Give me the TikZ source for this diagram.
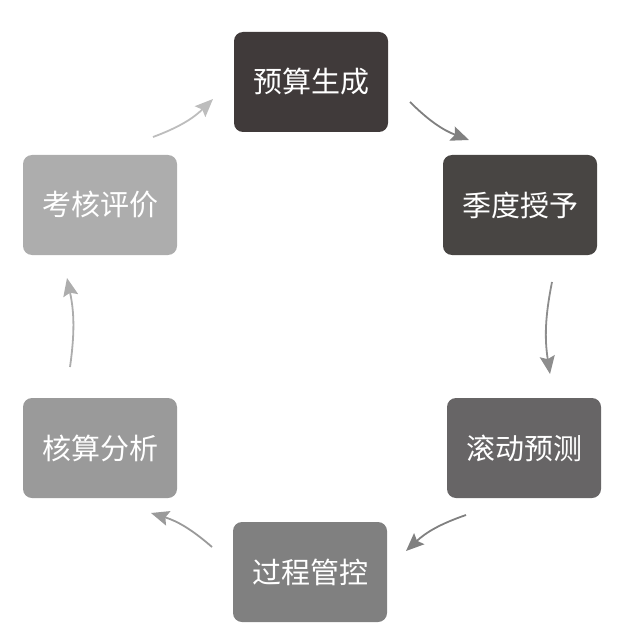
\documentclass[tikz,border=0pt]{standalone}
\usepackage{fontspec}
\newfontfamily\cjk{Noto Sans CJK SC}
\usepackage{xcolor}
\usetikzlibrary{arrows.meta}
\usetikzlibrary{positioning}

\definecolor{gen}{HTML}{403A3A}
\definecolor{grant}{HTML}{484543}
\definecolor{roll}{HTML}{676566}
\definecolor{ctrl}{HTML}{808080}
\definecolor{acct}{HTML}{9A9A9A}
\definecolor{eval}{HTML}{ADADAD}

\begin{document}
\begin{tikzpicture}[x=1pt, y=-1pt,
    box/.style={rounded corners=9pt, minimum width=154pt, minimum height=100pt,
        inner sep=0pt, text=white, font=\cjk\fontsize{29}{32}\selectfont},
    arr/.style={line width=1.8pt, -{Stealth[length=18pt, width=15pt, inset=3pt]}}]
    \useasboundingbox (0,0) rectangle (626,639) ;
    \node[box, fill=gen] (gen) at (311, 82) {预算生成} ;
    \node[box, fill=grant] (grant) at (520, 205) {季度授予} ;
    \node[box, fill=roll] (roll) at (524, 448) {滚动预测} ;
    \node[box, fill=ctrl] (ctrl) at (310, 572) {过程管控} ;
    \node[box, fill=acct] (acct) at (100, 448) {核算分析} ;
    \node[box, fill=eval] (eval) at (100, 205) {考核评价} ;
    % arrow ends
    \coordinate (a1) at (410, 102) ; \coordinate (b1) at (469, 140) ;
    \coordinate (a2) at (552, 282) ; \coordinate (b2) at (550, 374) ;
    \coordinate (a3) at (466, 515) ; \coordinate (b3) at (406, 551) ;
    \coordinate (a4) at (212, 547) ; \coordinate (b4) at (151, 513) ;
    \coordinate (a5) at (70, 367) ; \coordinate (b5) at (67, 278) ;
    \coordinate (a6) at (153, 137) ; \coordinate (b6) at (213, 99) ;
    \draw[arr, color=ctrl] (a1) to[bend right=12] (b1) ;
    \draw[arr, color=ctrl!90!white] (a2) to[bend right=10] (b2) ;
    \draw[arr, color=ctrl] (a3) to[bend right=12] (b3) ;
    \draw[arr, color=acct] (a4) to[bend right=12] (b4) ;
    \draw[arr, color=eval] (a5) to[bend right=10] (b5) ;
    \draw[arr, color=eval!80!white] (a6) to[bend right=12] (b6) ;
\end{tikzpicture}
\end{document}
